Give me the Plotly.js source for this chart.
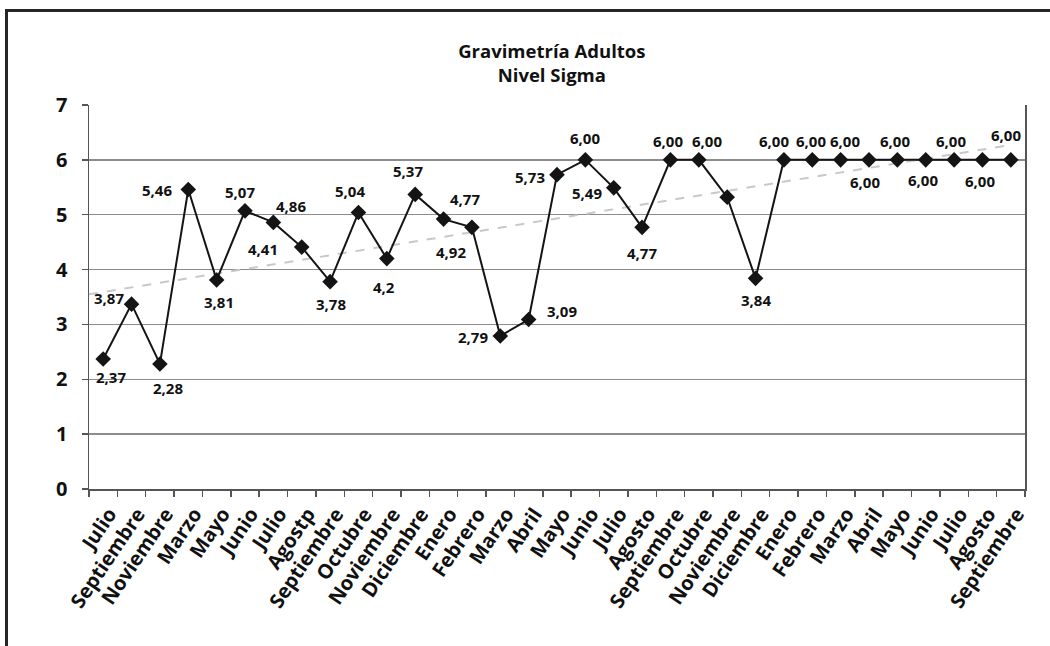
<!DOCTYPE html>
<html>
<head>
<meta charset="utf-8">
<script src="https://cdn.plot.ly/plotly-3.0.1.min.js"></script>
<style>
  html, body { margin: 0; padding: 0; background: #fff; }
  #chart { width: 1050px; height: 646px; position: relative; }
  #frame { position: absolute; left: 5px; top: 9px; width: 1200px; height: 800px;
           border-left: 3px solid #262626; border-top: 3px solid #262626; pointer-events: none; }
  #wrap { position: relative; width: 1050px; height: 646px; overflow: hidden; }
</style>
</head>
<body>
<div id="wrap">
  <div id="chart"></div>
  <div id="frame"></div>
</div>
<script>
// ---- data ----
const months = ["Julio", "Septiembre", "Noviembre", "Marzo", "Mayo", "Junio", "Julio", "Agostp",
  "Septiembre", "Octubre", "Noviembre", "Diciembre", "Enero", "Febrero", "Marzo", "Abril",
  "Mayo", "Junio", "Julio", "Agosto", "Septiembre", "Octubre", "Noviembre", "Diciembre",
  "Enero", "Febrero", "Marzo", "Abril", "Mayo", "Junio", "Julio", "Agosto", "Septiembre"];

const sigma = [2.37, 3.37, 2.28, 5.46, 3.81, 5.07, 4.86, 4.41, 3.78, 5.04, 4.20, 5.37, 4.92, 4.77,
  2.79, 3.09, 5.73, 6.00, 5.49, 4.77, 6.00, 6.00, 5.32, 3.84, 6.00, 6.00, 6.00, 6.00, 6.00,
  6.00, 6.00, 6.00, 6.00];

const pointLabels = ["2,37", "3,87", "2,28", "5,46", "3,81", "5,07", "4,86", "4,41", "3,78", "5,04",
  "4,2", "5,37", "4,92", "4,77", "2,79", "3,09", "5,73", "6,00", "5,49", "4,77", "6,00", "6,00",
  "", "3,84", "6,00", "6,00", "6,00", "6,00", "6,00", "6,00", "6,00", "6,00", "6,00"];

// label offsets in pixels (dx right, dy down) — layout only
const labelOffsets = [[8,18],[-23,-6],[8,24],[-31,1],[2,22],[-5,-19],[18,-16],[-39,2],[1,22],[-8,-22],
  [-3,28],[-7,-23],[7,33],[-7,-28],[-27,1],[33,-8],[-27,2],[0,-22],[-27,5],[0,26],[-2,-19],[8,-19],
  [0,0],[0,22],[-10,-19],[-1,-19],[4,-19],[-4,22],[-2,-19],[-3,20],[-3,-19],[-2,21],[-5,-25]];

// ---- build ----
const idx = months.map((_, i) => i);

// least squares linear trend
const n = sigma.length;
const mx = idx.reduce((a, b) => a + b, 0) / n;
const my = sigma.reduce((a, b) => a + b, 0) / n;
let sxy = 0, sxx = 0;
for (let i = 0; i < n; i++) { sxy += (idx[i] - mx) * (sigma[i] - my); sxx += (idx[i] - mx) ** 2; }
const slope = sxy / sxx, inter = my - slope * mx;
const trendX = [-0.5, n - 1];
const trendY = trendX.map(x => inter + slope * x);

const font = { family: "Open Sans, Liberation Sans, sans-serif", color: "#111", weight: 700 };

const traces = [
  { x: trendX, y: trendY, mode: "lines", line: { color: "#c8c8c8", width: 2, dash: "dash" },
    hoverinfo: "skip", showlegend: false },
  { x: idx, y: sigma, mode: "lines+markers", line: { color: "#141414", width: 2 },
    marker: { symbol: "diamond", size: 12, color: "#141414" }, showlegend: false }
];

const annotations = [];
for (let i = 0; i < n; i++) {
  if (!pointLabels[i]) continue;
  annotations.push({ x: idx[i], y: sigma[i], text: pointLabels[i], showarrow: false,
    xshift: labelOffsets[i][0], yshift: -labelOffsets[i][1],
    font: Object.assign({}, font, { size: 15 }) });
}

const boundaries = [];
for (let i = 0; i <= n; i++) boundaries.push(i - 0.5);

const layout = {
  width: 1050, height: 646,
  margin: { l: 89, r: 25, t: 105, b: 157 },
  paper_bgcolor: "#fff", plot_bgcolor: "#fff",
  title: { text: "Gravimetría Adultos<br>Nivel Sigma", x: 0.4945, xref: "paper", xanchor: "center",
    y: 0.91, yref: "container", yanchor: "top",
    font: Object.assign({}, font, { size: 18.5 }) },
  xaxis: {
    range: [-0.5, n - 0.5], tickmode: "array", tickvals: idx, ticktext: months,
    tickangle: -56, ticks: "", showgrid: false, zeroline: false,
    showline: true, linecolor: "#555", linewidth: 1.5,
    ticklabelstandoff: 4, ticklabelshift: 6,
    tickfont: Object.assign({}, font, { size: 20 }),
    minor: { tickmode: "array", tickvals: boundaries, ticks: "outside", ticklen: 6,
      tickcolor: "#555", tickwidth: 1.5, showgrid: false }
  },
  yaxis: {
    range: [0, 7], dtick: 1, tick0: 0, showgrid: true, gridcolor: "#8c8c8c", gridwidth: 1.5,
    zeroline: false, showline: true, mirror: true, linecolor: "#555", linewidth: 1.5,
    ticks: "outside", ticklen: 6, tickcolor: "#555", tickwidth: 1.5,
    ticklabelstandoff: 10,
    tickfont: Object.assign({}, font, { size: 20 })
  },
  annotations: annotations
};

Plotly.newPlot("chart", traces, layout, { displayModeBar: false, staticPlot: true });
</script>
</body>
</html>
